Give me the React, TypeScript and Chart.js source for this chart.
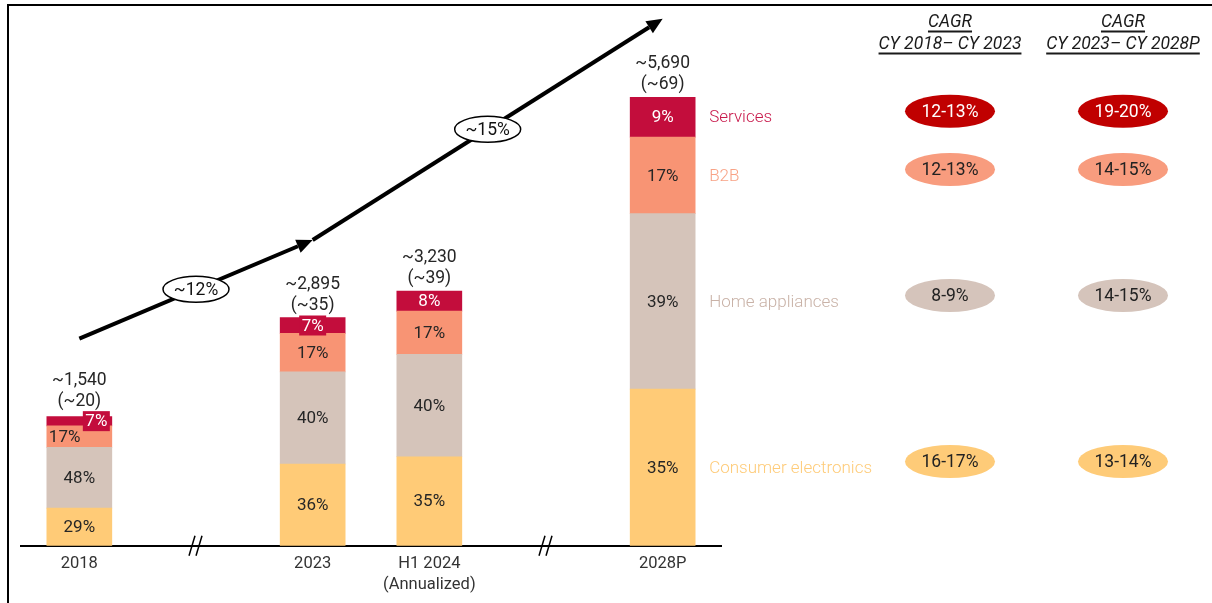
import React, { useEffect, useRef } from "react";
import { Chart, registerables } from "chart.js";

Chart.register(...registerables);

// ---------- data ----------
const CATEGORIES: (string | string[])[] = ["2018", "", "2023", ["H1 2024", "(Annualized)"], "", "2028P"];
const SERIES = ["Consumer electronics", "Home appliances", "B2B", "Services"];
const CONSUMER_ELECTRONICS = [477, null, 1038, 1130, null, 1987];
const HOME_APPLIANCES = [772, null, 1168, 1300, null, 2228];
const B2B = [273, null, 490, 548, null, 971];
const SERVICES = [119, null, 199, 253, null, 506];
const PCT_CE = ["29%", "", "36%", "35%", "", "35%"];
const PCT_HA = ["48%", "", "40%", "40%", "", "39%"];
const PCT_B2B = ["17%", "", "17%", "17%", "", "17%"];
const PCT_SERVICES = ["7%", "", "7%", "8%", "", "9%"];
const TOTAL_LABELS = ["~1,540", "", "~2,895", "~3,230", "", "~5,690"];
const TOTAL_SUB = ["(~20)", "", "(~35)", "(~39)", "", "(~69)"];
const BREAK_SLOTS = [1, 4];
const GROWTH_POINTS: [number, number][] = [[0, 2630], [2, 3880], [5, 6690]];
const GROWTH_LABELS = ["~12%", "~15%"];
const CAGR_HEADERS = [["CAGR", "CY 2018– CY 2023"], ["CAGR", "CY 2023– CY 2028P"]];
// ordered like SERIES
const CAGR_2018_2023 = ["16-17%", "8-9%", "12-13%", "12-13%"];
const CAGR_2023_2028 = ["13-14%", "14-15%", "14-15%", "19-20%"];

// ---------- styles ----------
const BAR_COLORS = ["#FFCB77", "#D5C4BA", "#F89474", "#C30D3C"];
const LEGEND_COLORS = ["#FECB78", "#C9B2A7", "#F8A285", "#C8194B"];
const PILL_COLORS = ["#FECB78", "#D5C4BB", "#F89C7E", "#C00000"];
const PILL_TEXT = ["#222", "#222", "#222", "#fff"];
const LABEL_COLORS = ["#262626", "#262626", "#262626", "#ffffff"];
const CAGR_X = [950, 1123];
const FONT = "Roboto";

const annotations = {
  id: "annotations",
  afterDraw(chart: any) {
    const { ctx, chartArea } = chart;
    const xs = chart.scales.x;
    const ys = chart.scales.y;
    ctx.save();

    // frame
    ctx.strokeStyle = "#000";
    ctx.lineWidth = 2;
    ctx.beginPath();
    ctx.moveTo(8, 610);
    ctx.lineTo(8, 5);
    ctx.lineTo(1215, 5);
    ctx.stroke();

    const metas = [0, 1, 2, 3].map((i) => chart.getDatasetMeta(i));
    const pctArrays = [PCT_CE, PCT_HA, PCT_B2B, PCT_SERVICES];
    ctx.textAlign = "center";
    ctx.textBaseline = "middle";

    const n = CATEGORIES.length;
    for (let j = 0; j < n; j++) {
      const els = metas.map((m) => m.data[j]);
      if (!els[0] || chart.data.datasets[0].data[j] == null) continue;
      const props = els.map((e: any) => e.getProps(["x", "y", "base", "width"], true));
      let top = props[3].y;
      let gap = 13;
      for (let i = 0; i < 4; i++) {
        const p = props[i];
        const h = p.base - p.y;
        const cy = (p.base + p.y) / 2;
        const txt = pctArrays[i][j];
        ctx.font = `400 17px ${FONT}`;
        if (i === 2 && h < 25) {
          ctx.fillStyle = LABEL_COLORS[i];
          ctx.textAlign = "left";
          ctx.fillText(txt, p.x - p.width / 2 + 2, cy + 1);
          ctx.textAlign = "center";
        } else if (i === 3 && h < 18) {
          const b2bH = props[2].base - props[2].y;
          const bw = 27;
          const bh = 20;
          const bx = b2bH < 25 ? p.x + p.width / 2 - 2 - bw : p.x - bw / 2;
          const by = cy - bh / 2;
          ctx.fillStyle = BAR_COLORS[3];
          ctx.fillRect(bx, by, bw, bh);
          ctx.fillStyle = "#fff";
          ctx.fillText(txt, bx + bw / 2, cy + 1);
          if (by < top) {
            top = by;
            gap = 10;
          }
        } else {
          ctx.fillStyle = LABEL_COLORS[i];
          ctx.fillText(txt, p.x, cy + 1);
        }
      }
      // totals
      ctx.fillStyle = "#262626";
      ctx.font = `400 17.5px ${FONT}`;
      ctx.fillText(TOTAL_SUB[j], props[3].x, top - gap);
      ctx.fillText(TOTAL_LABELS[j], props[3].x, top - gap - 20.5);
    }

    // legend labels next to last bar + CAGR pills
    const last = n - 1;
    const lastProps = metas.map((m) => m.data[last].getProps(["x", "y", "base", "width"], true));
    for (let i = 0; i < 4; i++) {
      const p = lastProps[i];
      const cy = (p.base + p.y) / 2;
      ctx.textAlign = "left";
      ctx.fillStyle = LEGEND_COLORS[i];
      ctx.font = `300 17px ${FONT}`;
      ctx.fillText(SERIES[i], p.x + p.width / 2 + 14, cy + 1);
      const vals = [CAGR_2018_2023[i], CAGR_2023_2028[i]];
      for (let c = 0; c < 2; c++) {
        const ex = CAGR_X[c];
        const ey = cy - 6;
        ctx.beginPath();
        ctx.ellipse(ex, ey, 45, 16.5, 0, 0, Math.PI * 2);
        ctx.fillStyle = PILL_COLORS[i];
        ctx.fill();
        ctx.fillStyle = PILL_TEXT[i];
        ctx.textAlign = "center";
        ctx.font = `400 17.5px ${FONT}`;
        ctx.fillText(vals[c], ex, ey + 1);
      }
    }

    // CAGR headers
    ctx.textAlign = "center";
    ctx.fillStyle = "#1a1a1a";
    ctx.strokeStyle = "#1a1a1a";
    ctx.lineWidth = 1.8;
    for (let c = 0; c < 2; c++) {
      const lines = CAGR_HEADERS[c];
      const yy = [23, 45];
      for (let k = 0; k < lines.length; k++) {
        ctx.font = `italic 400 17.5px ${FONT}`;
        ctx.fillText(lines[k], CAGR_X[c], yy[k]);
        const w = ctx.measureText(lines[k]).width;
        ctx.beginPath();
        ctx.moveTo(CAGR_X[c] - w / 2, yy[k] + 8.5);
        ctx.lineTo(CAGR_X[c] + w / 2, yy[k] + 8.5);
        ctx.stroke();
      }
    }

    // axis breaks
    ctx.strokeStyle = "#000";
    ctx.lineWidth = 1.5;
    for (const s of BREAK_SLOTS) {
      const cx = xs.getPixelForValue(s);
      const by = chartArea.bottom;
      for (const dx of [-7, 0]) {
        ctx.beginPath();
        ctx.moveTo(cx + dx, by + 10);
        ctx.lineTo(cx + dx + 6, by - 10);
        ctx.stroke();
      }
    }

    // growth arrows
    const pts = GROWTH_POINTS.map(([c, v]) => [xs.getPixelForValue(c), ys.getPixelForValue(v)]);
    for (let k = 0; k < pts.length - 1; k++) {
      const [x1, y1] = pts[k];
      const [x2, y2] = pts[k + 1];
      const ang = Math.atan2(y2 - y1, x2 - x1);
      const hl = 16;
      const hw = 7;
      const bx = x2 - hl * Math.cos(ang);
      const by = y2 - hl * Math.sin(ang);
      ctx.strokeStyle = "#000";
      ctx.lineWidth = 4;
      ctx.beginPath();
      ctx.moveTo(x1, y1);
      ctx.lineTo(bx, by);
      ctx.stroke();
      ctx.fillStyle = "#000";
      ctx.beginPath();
      ctx.moveTo(x2, y2);
      ctx.lineTo(bx + hw * Math.sin(ang), by - hw * Math.cos(ang));
      ctx.lineTo(bx - hw * Math.sin(ang), by + hw * Math.cos(ang));
      ctx.closePath();
      ctx.fill();
      // label ellipse
      const mx = (x1 + x2) / 2;
      const my = (y1 + y2) / 2;
      ctx.beginPath();
      ctx.ellipse(mx, my, 33, 13, 0, 0, Math.PI * 2);
      ctx.fillStyle = "#fff";
      ctx.fill();
      ctx.lineWidth = 1.5;
      ctx.stroke();
      ctx.fillStyle = "#111";
      ctx.font = `400 17.5px ${FONT}`;
      ctx.textAlign = "center";
      ctx.fillText(GROWTH_LABELS[k], mx, my + 1);
    }

    ctx.restore();
  },
};

export default function App() {
  const ref = useRef<HTMLCanvasElement | null>(null);
  useEffect(() => {
    document.body.style.margin = "0";
    const canvas = ref.current;
    if (!canvas) return;
    Chart.defaults.font.family = FONT;
    const seriesData = [CONSUMER_ELECTRONICS, HOME_APPLIANCES, B2B, SERVICES];
    const chart = new Chart(canvas, {
      type: "bar",
      data: {
        labels: CATEGORIES,
        datasets: seriesData.map((d, i) => ({
          label: SERIES[i],
          data: d,
          backgroundColor: BAR_COLORS[i],
          borderWidth: 0,
          barThickness: 65,
        })),
      },
      options: {
        responsive: false,
        animation: false,
        devicePixelRatio: 1,
        layout: { padding: { left: 21, right: 491, top: 10, bottom: 0 } },
        plugins: { legend: { display: false }, tooltip: { enabled: false } },
        scales: {
          x: {
            stacked: true,
            grid: { display: false, drawTicks: false },
            border: { display: true, color: "#000", width: 2 },
            ticks: {
              color: "#333",
              padding: 8,
              font: { size: 16.5, family: FONT, lineHeight: 1.25 },
              maxRotation: 0,
              autoSkip: false,
            },
          },
          y: {
            stacked: true,
            display: false,
            min: 0,
            max: 6800,
          },
        },
      },
      plugins: [annotations],
    } as any);
    return () => chart.destroy();
  }, []);
  return (
    <div style={{ width: 1212, height: 603, background: "#fff" }}>
      <canvas ref={ref} width={1212} height={603} style={{ display: "block" }} />
    </div>
  );
}
